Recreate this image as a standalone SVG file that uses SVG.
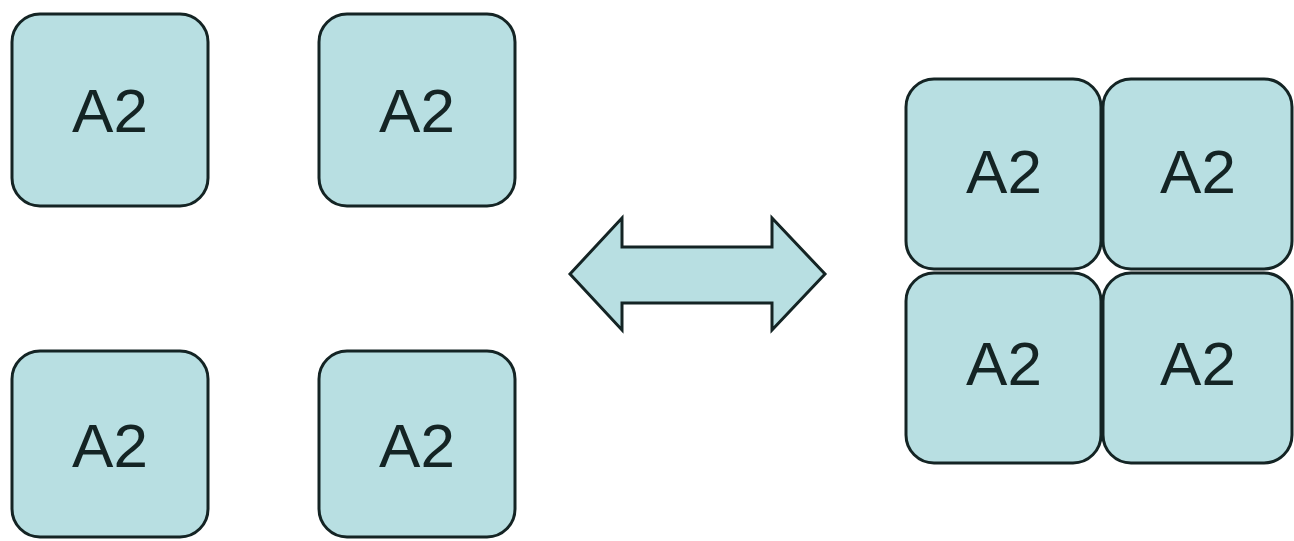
<svg xmlns="http://www.w3.org/2000/svg" width="1294" height="541" viewBox="0 0 1294 541">
<style>
.b{fill:#b8dfe2;stroke:#142424;stroke-width:3}
.t{font-family:"Liberation Sans",Arial,sans-serif;font-size:62px;fill:#142424;text-anchor:middle}
</style>
<rect width="1294" height="541" fill="#fff"/>
<g id="n1"><rect class="b" x="12" y="14" width="196" height="192" rx="28"/><text class="t" x="110" y="132">A2</text></g>
<g id="n2"><rect class="b" x="319" y="14" width="196" height="192" rx="28"/><text class="t" x="417" y="132">A2</text></g>
<g id="n3"><rect class="b" x="12" y="351" width="196" height="186" rx="28"/><text class="t" x="110" y="467">A2</text></g>
<g id="n4"><rect class="b" x="319" y="351" width="196" height="186" rx="28"/><text class="t" x="417" y="467">A2</text></g>
<g id="n5"><rect class="b" x="906" y="79" width="195" height="190" rx="28"/><text class="t" x="1004" y="193">A2</text></g>
<g id="n6"><rect class="b" x="1103" y="79" width="189" height="190" rx="28"/><text class="t" x="1198" y="193">A2</text></g>
<g id="n7"><rect class="b" x="906" y="273" width="195" height="190" rx="28"/><text class="t" x="1004" y="385">A2</text></g>
<g id="n8"><rect class="b" x="1103" y="273" width="189" height="190" rx="28"/><text class="t" x="1198" y="385">A2</text></g>
<g id="connectors"><path class="b" d="M570,274 L622,218 L622,247 L772,247 L772,218 L825,274 L772,330 L772,303 L622,303 L622,330 Z"/></g>
</svg>
